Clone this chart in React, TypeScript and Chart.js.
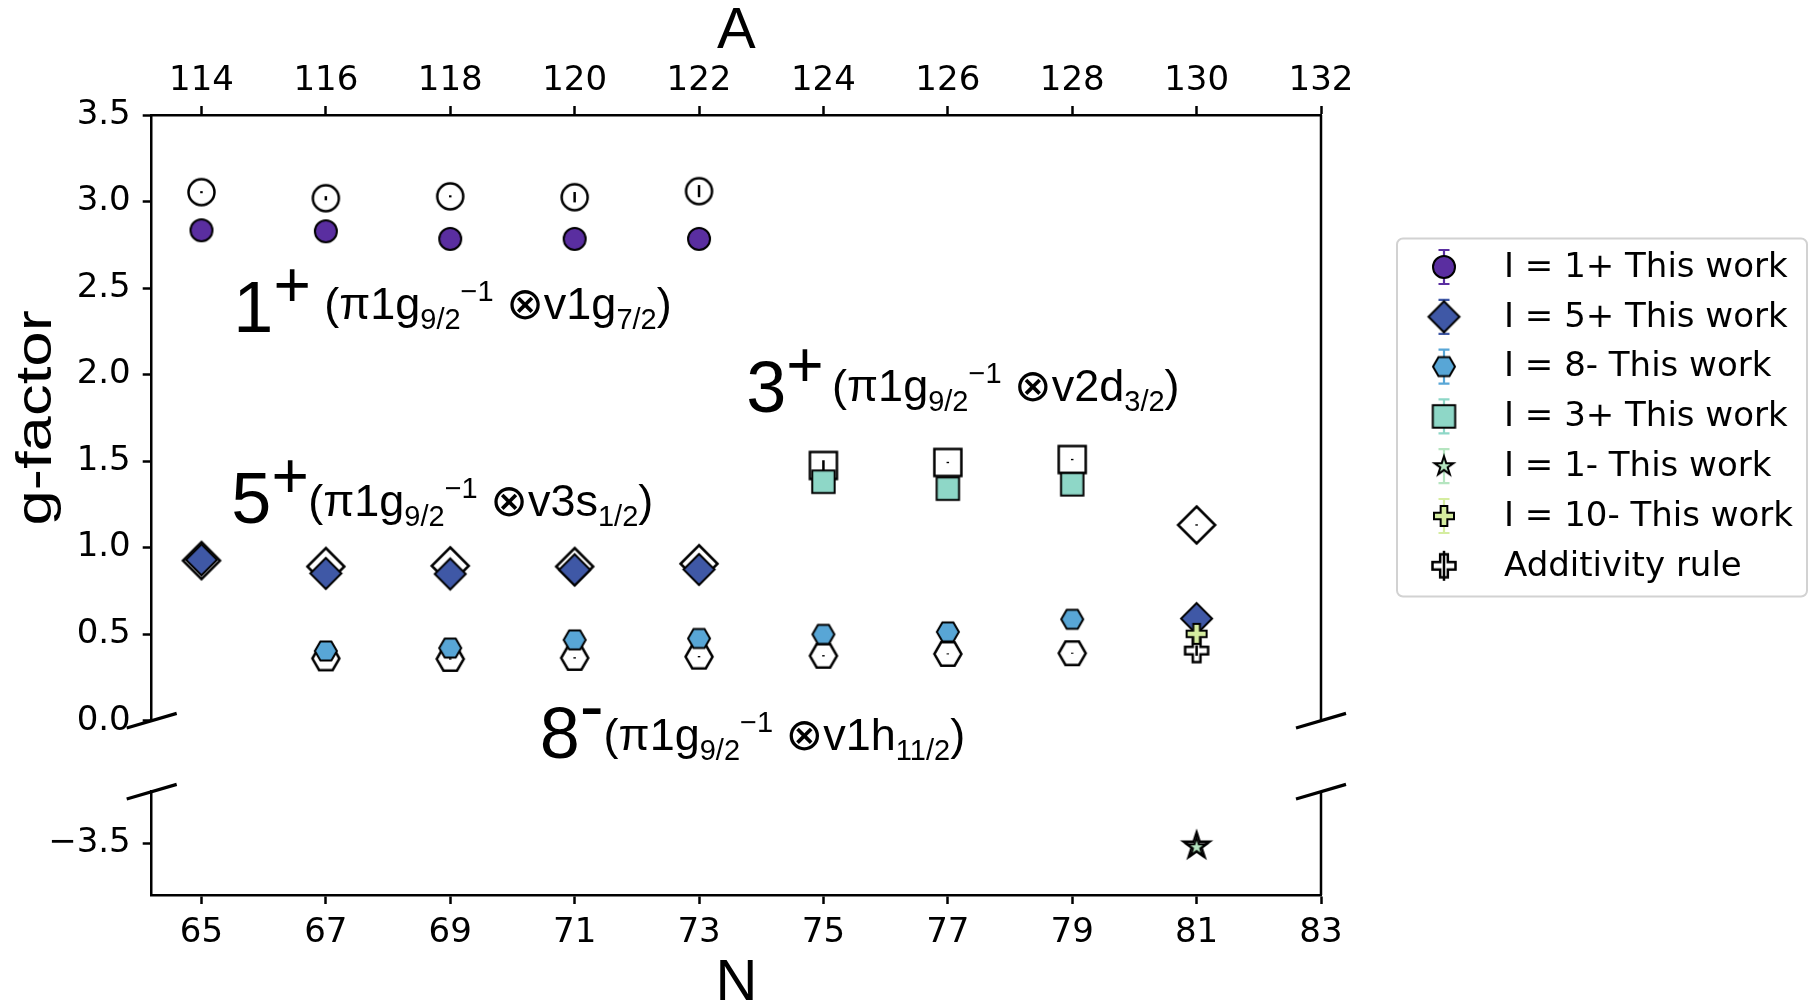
import React, { useEffect, useRef } from 'react';
import { Chart, registerables } from 'chart.js';

Chart.register(...registerables);

const W = 1813;
const H = 1006;

// ---------------- data ----------------
const N_TICKS = [65, 67, 69, 71, 73, 75, 77, 79, 81, 83];
const A_TICKS = [114, 116, 118, 120, 122, 124, 126, 128, 130, 132];
const G_TICKS_UPPER = [0, 0.5, 1, 1.5, 2, 2.5, 3, 3.5];
const G_TICKS_LOWER = [-3.5];

// I = 1+
const N_I1P = [65, 67, 69, 71, 73];
const G_I1P = [2.834, 2.828, 2.784, 2.784, 2.784];
const ERR_I1P = [0.02, 0.02, 0.02, 0.02, 0.02];
const ADD_I1P = [3.054, 3.019, 3.03, 3.025, 3.06];
const ADD_ERR_I1P = [0.006, 0.012, 0.006, 0.03, 0.035];

// I = 5+
const N_I5P = [65, 67, 69, 71, 73, 81];
const G_I5P = [0.93, 0.851, 0.848, 0.872, 0.874, 0.59];
const ERR_I5P = [0.02, 0.02, 0.02, 0.02, 0.02, 0.03];
const ADD_I5P = [0.925, 0.891, 0.895, 0.891, 0.907, 1.131];
const ADD_ERR_I5P = [0.004, 0.004, 0.004, 0.004, 0.004, 0.004];

// I = 8-
const N_I8M = [67, 69, 71, 73, 75, 77, 79];
const G_I8M = [0.403, 0.42, 0.467, 0.475, 0.499, 0.513, 0.586];
const ERR_I8M = [0.02, 0.02, 0.02, 0.02, 0.02, 0.02, 0.02];
const ADD_I8M = [0.36, 0.357, 0.363, 0.37, 0.375, 0.386, 0.39];
const ADD_ERR_I8M = [0.004, 0.004, 0.004, 0.004, 0.004, 0.003, 0.003];

// I = 3+
const N_I3P = [75, 77, 79];
const G_I3P = [1.381, 1.341, 1.366];
const ERR_I3P = [0.03, 0.03, 0.03];
const ADD_I3P = [1.475, 1.492, 1.509];
const ADD_ERR_I3P = [0.03, 0.004, 0.004];

// I = 1-
const N_I1M = [81];
const G_I1M = [-3.523];
const ERR_I1M = [0.02];
const ADD_I1M = [-3.515];
const ADD_ERR_I1M = [0.004];

// I = 10-
const N_I10M = [81];
const G_I10M = [0.502];
const ERR_I10M = [0.03];
const ADD_I10M = [0.405];
const ADD_ERR_I10M = [0.03];

const SERIES_LABELS = [
  'I = 1+ This work',
  'I = 5+ This work',
  'I = 8- This work',
  'I = 3+ This work',
  'I = 1- This work',
  'I = 10- This work',
];
const ADDITIVITY_LABEL = 'Additivity rule';

const AXIS_TITLE_X = 'N';
const AXIS_TITLE_TOP = 'A';
const AXIS_TITLE_Y = 'g-factor';

// annotation texts (role per piece)
const ANNOTATION_TEXT = [
  {
    big: [['1', 'big'], ['+', 'plus']],
    paren: [['(π1g', 'main'], ['9/2', 'sub'], ['−1', 'sup'], [' ⊗v1g', 'main'], ['7/2', 'sub'], [')', 'main']],
  },
  {
    big: [['3', 'big'], ['+', 'plus']],
    paren: [['(π1g', 'main'], ['9/2', 'sub'], ['−1', 'sup'], [' ⊗v2d', 'main'], ['3/2', 'sub'], [')', 'main']],
  },
  {
    big: [['5', 'big'], ['+', 'plus']],
    paren: [['(π1g', 'main'], ['9/2', 'sub'], ['−1', 'sup'], [' ⊗v3s', 'main'], ['1/2', 'sub'], [')', 'main']],
  },
  {
    big: [['8', 'big'], ['-', 'minus']],
    paren: [['(π1g', 'main'], ['9/2', 'sub'], ['−1', 'sup'], [' ⊗v1h', 'main'], ['11/2', 'sub'], [')', 'main']],
  },
];
// anchor positions in data units (N, g)
const ANNOTATION_POS = [
  { bx: 65.513, by: 2.244, px: 66.973, py: 2.319 },
  { bx: 73.76, by: 1.781, px: 75.139, py: 1.846 },
  { bx: 65.481, by: 1.144, px: 66.717, py: 1.181 },
  { bx: 70.439, by: -0.216, px: 71.466, py: -0.17 },
];

// ---------------- styles ----------------
const COLORS = ['#5a2ea0', '#3f58a6', '#58a6d6', '#8ed7c7', '#b5e5c0', '#d5eda0'];
const SHAPES = ['circle', 'diamond', 'hexagon', 'square', 'star', 'plus'];
const ROLE_STYLE: Record<string, { size: number; dy: number }> = {
  big: { size: 72, dy: 0 },
  plus: { size: 64, dy: -25 },
  minus: { size: 72, dy: -28 },
  main: { size: 45, dy: 0 },
  sub: { size: 29, dy: 10 },
  sup: { size: 29, dy: -18 },
};
const SANS = '"Liberation Sans", Arial, "DejaVu Sans", sans-serif';
const TICK_FONT = { family: 'DejaVu Sans', size: 34 };

const SIZE_FILLED: Record<string, number> = { circle: 11, diamond: 15.5, hexagon: 11, square: 11.2, star: 10, plus: 10 };
const SIZE_OPEN: Record<string, number> = { circle: 13, diamond: 18.5, hexagon: 13.5, square: 13.5, star: 13.5, plus: 11.5 };

function tracePath(ctx: CanvasRenderingContext2D, shape: string, cx: number, cy: number, R: number) {
  ctx.beginPath();
  if (shape === 'circle') {
    ctx.arc(cx, cy, R, 0, Math.PI * 2);
  } else if (shape === 'diamond') {
    ctx.moveTo(cx, cy - R);
    ctx.lineTo(cx + R, cy);
    ctx.lineTo(cx, cy + R);
    ctx.lineTo(cx - R, cy);
  } else if (shape === 'hexagon') {
    for (let k = 0; k < 6; k++) {
      const a = (k * Math.PI) / 3;
      const px = cx + R * Math.cos(a);
      const py = cy + R * Math.sin(a);
      if (k === 0) ctx.moveTo(px, py);
      else ctx.lineTo(px, py);
    }
  } else if (shape === 'square') {
    ctx.rect(cx - R, cy - R, 2 * R, 2 * R);
  } else if (shape === 'star') {
    for (let k = 0; k < 10; k++) {
      const a = -Math.PI / 2 + (k * Math.PI) / 5;
      const r = k % 2 === 0 ? R : R * 0.382;
      const px = cx + r * Math.cos(a);
      const py = cy + r * Math.sin(a);
      if (k === 0) ctx.moveTo(px, py);
      else ctx.lineTo(px, py);
    }
  } else if (shape === 'plus') {
    const pts = [[-1, -3], [-1, -1], [-3, -1], [-3, 1], [-1, 1], [-1, 3], [1, 3], [1, 1], [3, 1], [3, -1], [1, -1], [1, -3]];
    pts.forEach(([u, v], k) => {
      const px = cx + (u / 3) * R;
      const py = cy + (v / 3) * R;
      if (k === 0) ctx.moveTo(px, py);
      else ctx.lineTo(px, py);
    });
  }
  ctx.closePath();
}

function makeMarker(shape: string, filled: boolean, color: string): HTMLCanvasElement {
  const R = filled ? SIZE_FILLED[shape] : SIZE_OPEN[shape];
  const lw = filled ? 2 : 2.5;
  const side = Math.ceil(2 * R + 2 * lw + 8);
  const c = document.createElement('canvas');
  c.width = side;
  c.height = side;
  const ctx = c.getContext('2d')!;
  tracePath(ctx, shape, side / 2, side / 2, R);
  ctx.fillStyle = filled ? color : '#ffffff';
  ctx.fill();
  ctx.lineWidth = lw;
  ctx.lineJoin = 'miter';
  ctx.strokeStyle = '#000000';
  ctx.stroke();
  return c;
}

// ---------------- plugins ----------------
function drawErrors(chart: any, index: number, onTop: boolean) {
  const ds = chart.data.datasets[index];
  if (!ds.errors || !!ds.errOnTop !== onTop) return;
  const meta = chart.getDatasetMeta(index);
  const yScale = chart.scales[meta.yAxisID];
  const ctx = chart.ctx;
  ctx.save();
  ctx.strokeStyle = ds.errColor;
  ctx.lineWidth = 2.5;
  meta.data.forEach((pt: any, i: number) => {
    const v = ds.data[i].y;
    const e = ds.errors[i];
    const y1 = yScale.getPixelForValue(v - e);
    const y2 = yScale.getPixelForValue(v + e);
    ctx.beginPath();
    ctx.moveTo(pt.x, y1);
    ctx.lineTo(pt.x, y2);
    ctx.stroke();
  });
  ctx.restore();
}

const errorBarPlugin = {
  id: 'errorBars',
  beforeDatasetDraw(chart: any, args: any) {
    drawErrors(chart, args.index, false);
  },
  afterDatasetDraw(chart: any, args: any) {
    drawErrors(chart, args.index, true);
  },
};

const framePlugin = {
  id: 'brokenFrame',
  afterDraw(chart: any) {
    const { ctx, chartArea } = chart;
    const up = chart.scales.yTop;
    const lo = chart.scales.yLow;
    ctx.save();
    ctx.strokeStyle = '#000';
    ctx.lineWidth = 2.5;
    ctx.lineCap = 'butt';
    ctx.beginPath();
    ctx.moveTo(chartArea.right, up.top);
    ctx.lineTo(chartArea.right, up.bottom);
    ctx.moveTo(chartArea.right, lo.top);
    ctx.lineTo(chartArea.right, lo.bottom);
    ctx.stroke();
    ctx.lineWidth = 3.2;
    const marks = [
      [chartArea.left, up.bottom],
      [chartArea.right, up.bottom],
      [chartArea.left, lo.top],
      [chartArea.right, lo.top],
    ];
    ctx.beginPath();
    marks.forEach(([x, y]) => {
      ctx.moveTo(x - 25, y + 7.3);
      ctx.lineTo(x + 25, y - 7.3);
    });
    ctx.stroke();
    ctx.restore();
  },
};

const annotationPlugin = {
  id: 'stateLabels',
  afterDraw(chart: any) {
    const { ctx } = chart;
    const xs = chart.scales.x;
    const ys = chart.scales.yTop;
    ctx.save();
    ctx.fillStyle = '#000';
    ctx.textAlign = 'left';
    ctx.textBaseline = 'alphabetic';
    const drawSeg = (segs: string[][], x0: number, y0: number) => {
      let x = x0;
      segs.forEach(([t, role]) => {
        const st = ROLE_STYLE[role];
        ctx.font = `${st.size}px ${SANS}`;
        ctx.fillText(t, x, y0 + st.dy);
        x += ctx.measureText(t).width;
      });
    };
    ANNOTATION_TEXT.forEach((a, i) => {
      const p = ANNOTATION_POS[i];
      drawSeg(a.big, xs.getPixelForValue(p.bx), ys.getPixelForValue(p.by));
      drawSeg(a.paren, xs.getPixelForValue(p.px), ys.getPixelForValue(p.py));
    });
    ctx.restore();
  },
};

const yTitlePlugin = {
  id: 'yTitle',
  afterDraw(chart: any) {
    const { ctx, chartArea } = chart;
    const ys = chart.scales.yTop;
    ctx.save();
    ctx.translate(chartArea.left - 114, (ys.top + ys.bottom) / 2);
    ctx.rotate(-Math.PI / 2);
    ctx.scale(1.27, 1);
    ctx.font = `50px ${SANS}`;
    ctx.fillStyle = '#000';
    ctx.textAlign = 'center';
    ctx.textBaseline = 'middle';
    ctx.fillText(AXIS_TITLE_Y, 0, 0);
    ctx.restore();
  },
};

const boxLegendPlugin = {
  id: 'boxLegend',
  afterDraw(chart: any, _args: any, opts: any) {
    const { ctx } = chart;
    ctx.save();
    const { x, y, w, h, r } = opts.box;
    ctx.beginPath();
    ctx.moveTo(x + r, y);
    ctx.arcTo(x + w, y, x + w, y + h, r);
    ctx.arcTo(x + w, y + h, x, y + h, r);
    ctx.arcTo(x, y + h, x, y, r);
    ctx.arcTo(x, y, x + w, y, r);
    ctx.closePath();
    ctx.fillStyle = 'rgba(255,255,255,0.85)';
    ctx.fill();
    ctx.strokeStyle = '#d2d2d2';
    ctx.lineWidth = 2;
    ctx.stroke();
    opts.items.forEach((idx: number, k: number) => {
      const ds = chart.data.datasets[idx];
      const cy = opts.firstRow + k * opts.rowStep;
      const mx = opts.markerX;
      const img = ds.pointStyle as HTMLCanvasElement;
      if (ds.errOnTop) {
        ctx.drawImage(img, mx - img.width / 2, cy - img.height / 2);
        ctx.strokeStyle = '#000';
        ctx.lineWidth = 2.5;
        ctx.beginPath();
        ctx.moveTo(mx, cy - 15);
        ctx.lineTo(mx, cy + 15);
        ctx.stroke();
      } else {
        ctx.strokeStyle = ds.errColor;
        ctx.lineWidth = 2.2;
        ctx.beginPath();
        ctx.moveTo(mx, cy - 17);
        ctx.lineTo(mx, cy + 17);
        ctx.moveTo(mx - 5.5, cy - 17);
        ctx.lineTo(mx + 5.5, cy - 17);
        ctx.moveTo(mx - 5.5, cy + 17);
        ctx.lineTo(mx + 5.5, cy + 17);
        ctx.stroke();
        ctx.drawImage(img, mx - img.width / 2, cy - img.height / 2);
      }
      ctx.fillStyle = '#000';
      ctx.font = '34px "DejaVu Sans", sans-serif';
      ctx.textAlign = 'left';
      ctx.textBaseline = 'middle';
      ctx.fillText(ds.label, opts.textX, cy + 1);
    });
    ctx.restore();
  },
};

// ---------------- chart ----------------
function buildConfig(): any {
  const filledN = [N_I1P, N_I5P, N_I8M, N_I3P, N_I1M, N_I10M];
  const filledG = [G_I1P, G_I5P, G_I8M, G_I3P, G_I1M, G_I10M];
  const filledE = [ERR_I1P, ERR_I5P, ERR_I8M, ERR_I3P, ERR_I1M, ERR_I10M];
  const addG = [ADD_I1P, ADD_I5P, ADD_I8M, ADD_I3P, ADD_I1M, ADD_I10M];
  const addE = [ADD_ERR_I1P, ADD_ERR_I5P, ADD_ERR_I8M, ADD_ERR_I3P, ADD_ERR_I1M, ADD_ERR_I10M];
  const axisFor = (k: number) => (k === 4 ? 'yLow' : 'yTop');

  const datasets: any[] = [];
  SERIES_LABELS.forEach((label, k) => {
    datasets.push({
      label,
      data: filledN[k].map((n, i) => ({ x: n, y: filledG[k][i] })),
      errors: filledE[k],
      errColor: COLORS[k],
      errOnTop: false,
      xAxisID: 'x',
      yAxisID: axisFor(k),
      pointStyle: makeMarker(SHAPES[k], true, COLORS[k]),
      pointRadius: 12,
      showLine: false,
      order: 10 - k,
    });
  });
  SHAPES.forEach((shape, k) => {
    datasets.push({
      label: ADDITIVITY_LABEL,
      data: filledN[k].map((n, i) => ({ x: n, y: addG[k][i] })),
      errors: addE[k],
      errColor: '#000',
      errOnTop: true,
      xAxisID: 'x',
      yAxisID: axisFor(k),
      pointStyle: makeMarker(shape, false, '#fff'),
      pointRadius: 14,
      showLine: false,
      order: 30 - k,
    });
  });

  const tickGrid = { drawOnChartArea: false, drawTicks: true, tickLength: 9, tickWidth: 2.5, tickColor: '#000' };
  const border = { display: true, color: '#000', width: 2.5 };
  const titleFont = { family: SANS, size: 58, lineHeight: 0.76 };

  return {
    type: 'scatter',
    data: { datasets },
    options: {
      animation: false,
      responsive: false,
      devicePixelRatio: 1,
      layout: { padding: { left: 0, right: W - 1321, top: 0, bottom: 0 } },
      plugins: {
        legend: { display: false },
        tooltip: { enabled: false },
        boxLegend: {
          box: { x: 1397, y: 238.5, w: 410, h: 358, r: 6 },
          items: [0, 1, 2, 3, 4, 5, 11],
          firstRow: 267,
          rowStep: 49.8,
          markerX: 1444,
          textX: 1504,
        },
      },
      scales: {
        x: {
          type: 'linear',
          position: 'bottom',
          min: 64.2,
          max: 83,
          afterBuildTicks: (s: any) => {
            s.ticks = N_TICKS.map((v) => ({ value: v }));
          },
          afterFit: (s: any) => {
            s.height = H - 895;
          },
          ticks: { font: TICK_FONT, color: '#000', padding: 8.5, autoSkip: false, maxRotation: 0, callback: (v: any) => String(v) },
          grid: tickGrid,
          border,
          title: { display: true, text: AXIS_TITLE_X, color: '#000', font: titleFont, padding: { top: 0, bottom: 0 } },
        },
        xTop: {
          type: 'linear',
          position: 'top',
          min: 113.2,
          max: 132,
          afterBuildTicks: (s: any) => {
            s.ticks = A_TICKS.map((v) => ({ value: v }));
          },
          afterFit: (s: any) => {
            s.height = 115;
          },
          ticks: { font: TICK_FONT, color: '#000', padding: 4.5, autoSkip: false, maxRotation: 0, callback: (v: any) => String(v) },
          grid: tickGrid,
          border,
          title: { display: true, text: AXIS_TITLE_TOP, color: '#000', font: titleFont, padding: { top: 10, bottom: 0 } },
        },
        yTop: {
          type: 'linear',
          position: 'left',
          stack: 'g',
          stackWeight: 605.7,
          weight: 2,
          min: 0,
          max: 3.5,
          afterBuildTicks: (s: any) => {
            s.ticks = G_TICKS_UPPER.map((v) => ({ value: v }));
          },
          afterFit: (s: any) => {
            s.width = 151.7;
          },
          ticks: { font: TICK_FONT, color: '#000', padding: 12, autoSkip: false, callback: (v: any) => Number(v).toFixed(1) },
          grid: tickGrid,
          border,
        },
        yGap: {
          type: 'linear',
          position: 'left',
          stack: 'g',
          stackWeight: 71,
          weight: 1,
          min: 0,
          max: 1,
          afterFit: (s: any) => {
            s.width = 151.7;
          },
          ticks: { display: false },
          grid: { display: false },
          border: { display: false },
        },
        yLow: {
          type: 'linear',
          position: 'left',
          stack: 'g',
          stackWeight: 103.3,
          weight: 0,
          min: -3.8,
          max: -3.2,
          afterBuildTicks: (s: any) => {
            s.ticks = G_TICKS_LOWER.map((v) => ({ value: v }));
          },
          afterFit: (s: any) => {
            s.width = 151.7;
          },
          ticks: {
            font: TICK_FONT,
            color: '#000',
            padding: 12,
            autoSkip: false,
            callback: (v: any) => (v < 0 ? '−' : '') + Math.abs(Number(v)).toFixed(1),
          },
          grid: tickGrid,
          border,
        },
      },
    },
    plugins: [errorBarPlugin, framePlugin, annotationPlugin, yTitlePlugin, boxLegendPlugin],
  };
}

export default function App() {
  const ref = useRef<HTMLCanvasElement>(null);
  useEffect(() => {
    const canvas = ref.current;
    if (!canvas) return;
    const chart = new Chart(canvas, buildConfig());
    return () => chart.destroy();
  }, []);
  return (
    <div style={{ position: 'absolute', left: 0, top: 0, width: W, height: H, background: '#ffffff' }}>
      <canvas ref={ref} width={W} height={H} style={{ width: `${W}px`, height: `${H}px`, display: 'block' }} />
    </div>
  );
}
